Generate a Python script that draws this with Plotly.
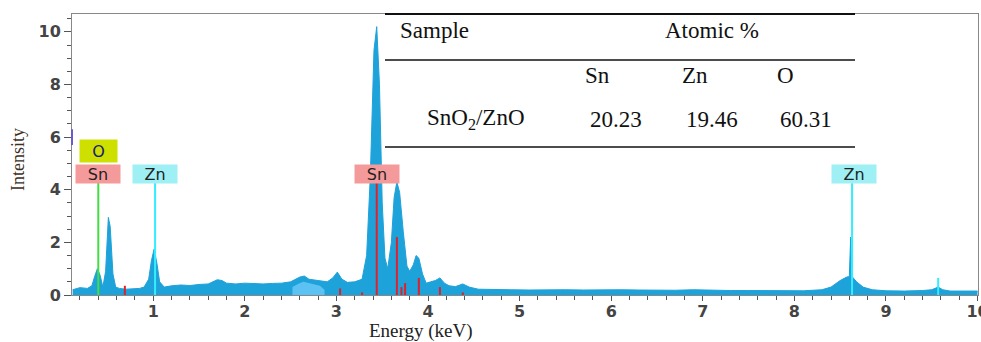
import plotly.graph_objects as go

# ---- spectrum ----
energy = [0.12, 0.2, 0.28, 0.33, 0.36, 0.39, 0.42, 0.45, 0.48, 0.51, 0.53, 0.56, 0.59, 0.63,
          0.7, 0.78, 0.85, 0.9, 0.95, 0.98, 1.01, 1.04, 1.07, 1.12, 1.2, 1.3, 1.4, 1.5, 1.6,
          1.7, 1.75, 1.8, 1.9, 2.0, 2.1, 2.2, 2.3, 2.4, 2.5, 2.6, 2.65, 2.7, 2.8, 2.9, 2.96,
          3.01, 3.06, 3.12, 3.2, 3.28, 3.33, 3.37, 3.41, 3.44, 3.47, 3.5, 3.53, 3.56, 3.6,
          3.63, 3.66, 3.69, 3.73, 3.77, 3.8, 3.84, 3.87, 3.9, 3.94, 3.98, 4.03, 4.08, 4.13,
          4.18, 4.23, 4.3, 4.38, 4.45, 4.55, 4.7, 4.9, 5.1, 5.3, 5.5, 5.7, 5.9, 6.1, 6.3,
          6.5, 6.7, 6.9, 7.1, 7.3, 7.5, 7.7, 7.9, 8.1, 8.3, 8.4, 8.5, 8.57, 8.6, 8.615,
          8.63, 8.68, 8.75, 8.85, 9.0, 9.2, 9.4, 9.5, 9.57, 9.62, 9.7, 9.85, 10.0]
intensity = [0.2, 0.28, 0.25, 0.35, 0.7, 1.0, 0.75, 0.3, 0.9, 2.95, 2.6, 0.8, 0.3, 0.25,
             0.22, 0.25, 0.25, 0.3, 0.6, 1.3, 1.75, 1.2, 0.5, 0.3, 0.35, 0.38, 0.36, 0.4, 0.42,
             0.58, 0.55, 0.45, 0.42, 0.45, 0.43, 0.42, 0.44, 0.45, 0.5, 0.68, 0.72, 0.6, 0.55,
             0.5, 0.65, 0.87, 0.6, 0.48, 0.5, 0.6, 1.5, 4.5, 9.3, 10.2, 8.0, 3.5, 1.4, 1.0,
             2.0, 3.7, 4.3, 3.9, 2.4, 1.1, 0.9, 1.15, 1.5, 1.4, 0.8, 0.45, 0.5, 0.55, 0.65,
             0.45, 0.35, 0.32, 0.42, 0.3, 0.22, 0.2, 0.2, 0.19, 0.2, 0.2, 0.19, 0.2, 0.2, 0.19,
             0.18, 0.18, 0.2, 0.18, 0.17, 0.17, 0.16, 0.16, 0.16, 0.2, 0.3, 0.55, 0.68, 0.7,
             2.2, 0.7, 0.5, 0.3, 0.2, 0.16, 0.15, 0.17, 0.2, 0.3, 0.2, 0.15, 0.15, 0.15]

# lighter overlapping patch (2.5-2.9 keV)
overlap_E = [2.52, 2.58, 2.64, 2.7, 2.76, 2.82, 2.87]
overlap_I = [0.3, 0.42, 0.5, 0.45, 0.4, 0.35, 0.2]

# ---- element marker lines ----
sn_E = [0.69, 3.04, 3.28, 3.44, 3.66, 3.71, 3.75, 3.90, 4.13, 4.38]
sn_h = [0.35, 0.25, 0.1, 4.26, 2.2, 0.3, 0.45, 0.65, 0.3, 0.1]
o_E = [0.40]
o_h = [4.26]
zn_E = [1.02, 8.63, 9.57]
zn_h = [4.26, 4.26, 0.65]

# ---- element labels ----
lab_text = ["O", "Sn", "Zn", "Sn", "Zn"]
lab_E = [0.397, 0.397, 1.018, 3.44, 8.65]
lab_y = [5.48, 4.6, 4.6, 4.6, 4.6]
lab_col = ["#cde000", "#f59a9a", "#9ef0f5", "#f59a9a", "#9ef0f5"]
lab_w = [37, 44, 44, 44, 44]
lab_h = [22, 18, 18, 18, 18]

# ---- table ----
tab_header = ["Sample", "Atomic %"]
tab_elems = ["Sn", "Zn", "O"]
tab_sample = "SnO<sub>2</sub>/ZnO"
tab_values = ["20.23", "19.46", "60.31"]

x_ticks = [1, 2, 3, 4, 5, 6, 7, 8, 9, 10]
y_ticks = [0, 2, 4, 6, 8, 10]

W, H = 981, 342
L, R, T, B = 72, 3, 14, 47
pw, ph = W - L - R, H - T - B


def px(x):
    return (x - L) / pw


def py(y):
    return (H - B - y) / ph


def stems(es, hs):
    xs, ys = [], []
    for e, h in zip(es, hs):
        xs += [e, e, None]
        ys += [0, h, None]
    return xs, ys


fig = go.Figure()
fig.add_trace(go.Scatter(x=energy, y=intensity, mode="lines", fill="tozeroy",
                         line=dict(color="#1ea2da", width=1), fillcolor="#1ea2da",
                         hoverinfo="skip"))
fig.add_trace(go.Scatter(x=overlap_E, y=overlap_I, mode="lines", fill="tozeroy",
                         line=dict(color="#5cc2f4", width=0), fillcolor="#5cc2f4",
                         hoverinfo="skip"))
for es, hs, col in [(sn_E, sn_h, "#e0202a"), (o_E, o_h, "#44dd44"), (zn_E, zn_h, "#33eeff")]:
    xs, ys = stems(es, hs)
    fig.add_trace(go.Scatter(x=xs, y=ys, mode="lines", line=dict(color=col, width=2),
                             hoverinfo="skip"))

for t, e, y, c, w, h in zip(lab_text, lab_E, lab_y, lab_col, lab_w, lab_h):
    fig.add_annotation(x=e, y=y, xref="x", yref="y", text=t, showarrow=False,
                       bgcolor=c, width=w, height=h, borderpad=0,
                       font=dict(family="DejaVu Sans", size=16,
                                 color="#1a1a6e" if t == "O" else "#222222"))

# table annotations
serif = "Liberation Serif"
tfont = dict(family=serif, size=23, color="#111111")
tx = [(tab_header[0], 398, 30), (tab_header[1], 663, 30)]
for e, xpos in zip(tab_elems, [583, 680, 775]):
    tx.append((e, xpos, 75))
tx.append((tab_sample, 425, 119))
for v, xpos in zip(tab_values, [588, 684, 778]):
    tx.append((v, xpos, 119))
for t, xx, yy in tx:
    fig.add_annotation(x=px(xx), y=py(yy), xref="paper", yref="paper", text=t,
                       showarrow=False, xanchor="left", yanchor="middle", font=tfont)

for yy, wd in [(14, 2), (60, 1.5), (147, 1.5)]:
    fig.add_shape(type="line", xref="paper", yref="paper", x0=px(385), x1=px(855),
                  y0=py(yy), y1=py(yy), line=dict(color="#111111", width=wd))

# small purple mark on y axis
fig.add_shape(type="line", xref="paper", yref="y", x0=0, x1=0, y0=5.7, y1=6.3,
              line=dict(color="#6a5acd", width=2))

fig.add_annotation(x=px(421), y=py(331), xref="paper", yref="paper", text="Energy (keV)",
                   showarrow=False, xanchor="center", yanchor="middle",
                   font=dict(family=serif, size=19, color="#222222"))
fig.add_annotation(x=px(18), y=py(160), xref="paper", yref="paper", text="Intensity",
                   showarrow=False, textangle=-90, xanchor="center", yanchor="middle",
                   font=dict(family=serif, size=18, color="#3b2f1e"))

tickfont = dict(family="DejaVu Sans", size=16, color="#444444", weight="bold")
fig.update_xaxes(range=[0.113, 10.005], tickvals=x_ticks, ticktext=[str(v) for v in x_ticks],
                 ticks="outside", ticklen=5, tickcolor="#555555", ticklabelstandoff=-3,
                 ticklabeloverflow="allow", automargin=False,
                 minor=dict(dtick=0.2, tick0=0, ticks="outside", ticklen=4, tickcolor="#555555"),
                 showline=True, linecolor="#888888", mirror=True, showgrid=False,
                 zeroline=False, tickfont=tickfont)
fig.update_yaxes(range=[0, 10.68], tickvals=y_ticks, ticktext=[str(v) for v in y_ticks],
                 ticks="outside", ticklen=7, tickcolor="#555555", automargin=False,
                 minor=dict(dtick=0.5, tick0=0, ticks="outside", ticklen=4, tickcolor="#555555"),
                 showline=True, linecolor="#888888", mirror=True, showgrid=False,
                 zeroline=False, tickfont=tickfont)

fig.update_layout(width=W, height=H, margin=dict(l=L, r=R, t=T, b=B),
                  plot_bgcolor="white", paper_bgcolor="white", showlegend=False)

fig.write_html("out.html")
